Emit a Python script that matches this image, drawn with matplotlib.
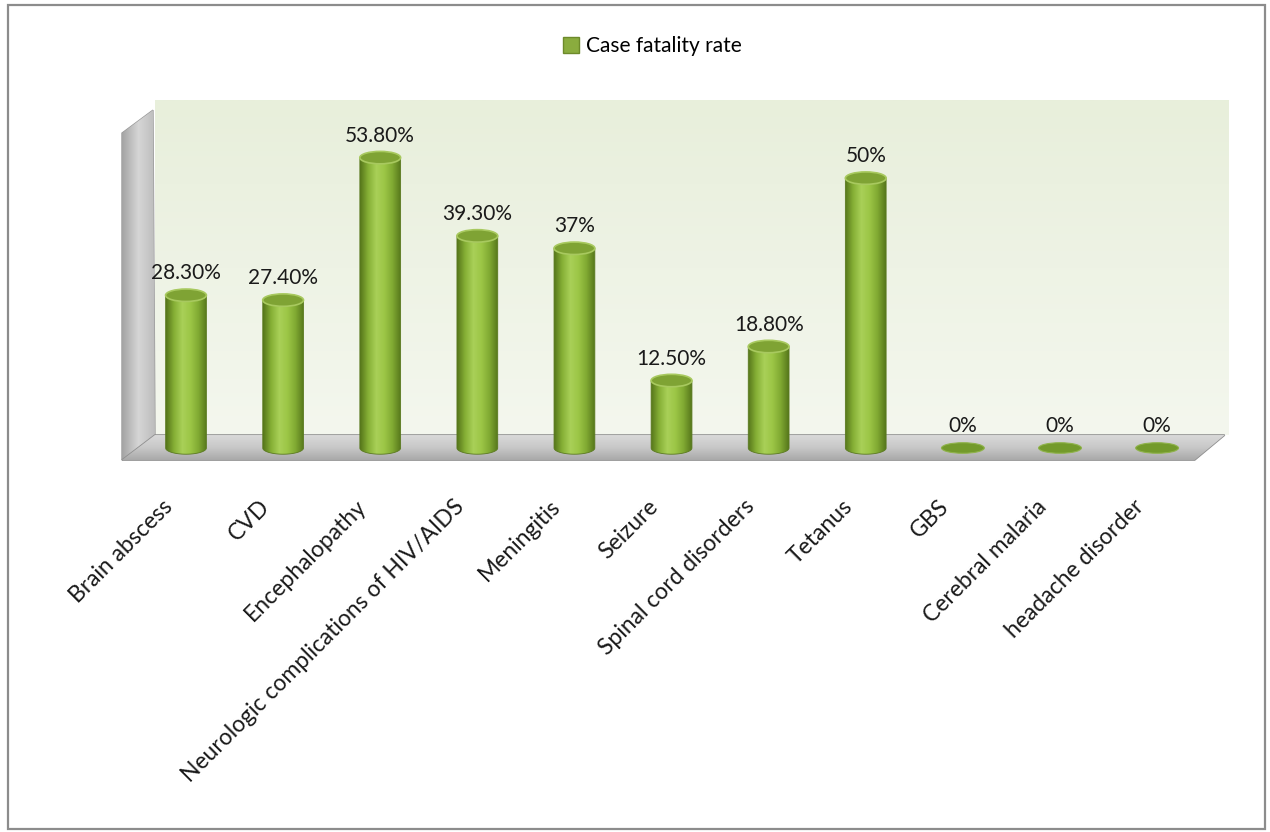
import numpy as np
import matplotlib
matplotlib.use("Agg")
import matplotlib.pyplot as plt
from matplotlib.patches import Ellipse, Polygon, PathPatch, Patch, Rectangle
from matplotlib.path import Path
from matplotlib.colors import LinearSegmentedColormap
from matplotlib.transforms import offset_copy

plt.rcParams["font.family"] = ["Lato", "DejaVu Sans"]

categories = [
    "Brain abscess", "CVD", "Encephalopathy",
    "Neurologic complications of HIV/AIDS", "Meningitis", "Seizure",
    "Spinal cord disorders", "Tetanus", "GBS", "Cerebral malaria",
    "headache disorder",
]
fatality = [28.3, 27.4, 53.8, 39.3, 37, 12.5, 18.8, 50, 0, 0, 0]
series_name = "Case fatality rate"


def pct_label(v):
    return f"{v:.0f}%" if float(v).is_integer() else f"{v:.2f}%"


W, H = 1270, 832
fig = plt.figure(figsize=(W / 100, H / 100), dpi=100)
fig.patch.set_facecolor("white")

# outer frame
fig.add_artist(Rectangle((8 / W, 3 / H), 1257 / W, 824 / H, transform=fig.transFigure,
                         fill=False, edgecolor="#8c8c8c", lw=1.6))

ax = fig.add_axes([118 / W, 1 - 465 / H, 1110 / W, 370 / H])
ax.set_xlim(-0.70, 10.73)
ax.set_ylim(-3.15, 65.4)
ax.axis("off")

# back wall: pale green gradient
wall = LinearSegmentedColormap.from_list("wall", ["#f4f7ee", "#eef3e5", "#e8efdb"])
ax.imshow(np.linspace(0, 1, 256).reshape(-1, 1), cmap=wall, origin="lower",
          extent=[0.0333, 1.0, 0.081, 0.986], transform=ax.transAxes,
          aspect="auto", zorder=0)

# left side wall
side = Polygon([(0.0036, 0.0135), (0.0036, 0.897), (0.0315, 0.959), (0.0333, 0.081)],
               closed=True, transform=ax.transAxes, facecolor="#b9b9b9",
               edgecolor="#9a9a9a", lw=1, zorder=1)
ax.add_patch(side)
side_grad = LinearSegmentedColormap.from_list("side", ["#a4a4a4", "#d6d6d6", "#bdbdbd"])
im = ax.imshow(np.linspace(0, 1, 64).reshape(1, -1), cmap=side_grad,
               extent=[0.0036, 0.0333, 0.0, 1.0], transform=ax.transAxes,
               aspect="auto", zorder=1)
im.set_clip_path(side)

# floor slab
floor = Polygon([(0.0036, 0.0135), (0.0333, 0.081), (0.997, 0.081), (0.970, 0.0135)],
                closed=True, transform=ax.transAxes, facecolor="#bdbdbd",
                edgecolor="#8f8f8f", lw=1.2, zorder=1)
ax.add_patch(floor)
floor_grad = LinearSegmentedColormap.from_list("floor", ["#a9a9a9", "#c8c8c8", "#d9d9d9"])
im = ax.imshow(np.linspace(0, 1, 64).reshape(-1, 1), cmap=floor_grad, origin="lower",
               extent=[0.0, 1.0, 0.0135, 0.081], transform=ax.transAxes,
               aspect="auto", zorder=1)
im.set_clip_path(floor)

# cylinders
bar_w = 0.42
cap_h = 2.3
body = LinearSegmentedColormap.from_list(
    "body", ["#55761a", "#86b036", "#a9d058", "#9cc646", "#80a932", "#56771b"])
theta = np.linspace(np.pi, 2 * np.pi, 60)

for i, v in enumerate(fatality):
    if v > 0:
        left, right = i - bar_w / 2, i + bar_w / 2
        arc_x = i + bar_w / 2 * np.cos(theta)
        arc_y = cap_h / 2 * np.sin(theta)
        verts = [(left, v)] + list(zip(arc_x, arc_y)) + [(right, v), (left, v)]
        outline = PathPatch(Path(verts, closed=True), facecolor="none",
                            edgecolor="#5b7a20", lw=0.6, zorder=3)
        ax.add_patch(outline)
        img = ax.imshow(np.linspace(0, 1, 128).reshape(1, -1), cmap=body,
                        extent=[left, right, -cap_h, v], aspect="auto", zorder=2)
        img.set_clip_path(outline)
        ax.add_patch(Ellipse((i, v), bar_w, cap_h, facecolor="#7fa334",
                             edgecolor="#a8c95f", lw=1.2, zorder=4))
    else:
        ax.add_patch(Ellipse((i, v), bar_w * 1.05, cap_h * 0.85, facecolor="#739a2b",
                             edgecolor="#8fb34a", lw=0.8, zorder=4))
    ax.annotate(pct_label(v), (i, v + cap_h / 2), xytext=(0, 7),
                textcoords="offset points", ha="center", va="baseline",
                fontsize=15, color="#1a1a1a", zorder=5)

# category labels, rotated
label_tr = offset_copy(ax.transData, fig=fig, x=-17, y=0, units="dots")
for i, name in enumerate(categories):
    ax.text(i, -10.2, name, transform=label_tr, rotation=45, rotation_mode="anchor",
            ha="right", va="center", fontsize=16.5, color="#1a1a1a", clip_on=False)

fig.legend(handles=[Patch(facecolor="#8aac3e", edgecolor="#6d8a2a")], labels=[series_name],
           loc="center", bbox_to_anchor=(652 / W, 1 - 46 / H), frameon=False,
           fontsize=15, handlelength=0.8, handleheight=0.8, handletextpad=0.3)

fig.savefig("out.png", dpi=100)
